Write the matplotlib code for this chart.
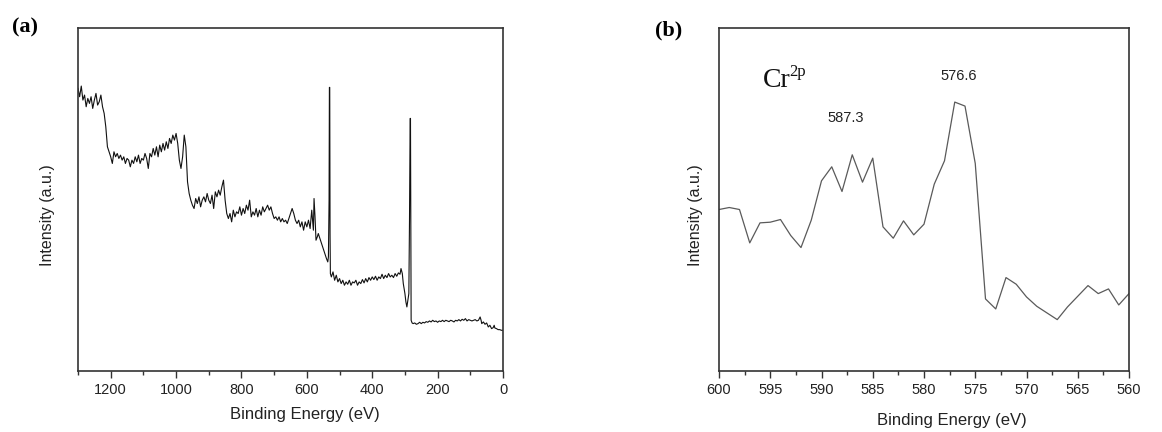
import matplotlib
matplotlib.use("Agg")
import matplotlib.pyplot as plt
from matplotlib.ticker import MultipleLocator

# ---- Panel (a): XPS survey ----
survey_energy = [1300, 1295, 1290, 1285, 1280, 1275, 1270, 1265, 1260, 1255, 1250, 1245, 1240, 1235, 1230,
                 1225, 1220, 1215, 1210, 1205, 1200, 1195, 1190, 1185, 1180, 1175, 1170, 1165, 1160, 1155,
                 1150, 1145, 1140, 1135, 1130, 1125, 1120, 1115, 1110, 1105, 1100, 1095, 1090, 1085, 1080,
                 1075, 1070, 1065, 1060, 1055, 1050, 1045, 1040, 1035, 1030, 1025, 1020, 1015, 1010, 1005,
                 1000, 995, 990, 985, 980, 975, 970, 965, 960, 955, 950, 945, 940, 935, 930,
                 925, 920, 915, 910, 905, 900, 895, 890, 885, 880, 875, 870, 865, 860, 855,
                 850, 845, 840, 835, 830, 825, 820, 815, 810, 805, 800, 795, 790, 785, 780,
                 775, 770, 765, 760, 755, 750, 745, 740, 735, 730, 725, 720, 715, 710, 705,
                 700, 695, 690, 685, 680, 675, 670, 665, 660, 655, 650, 645, 640, 635, 630,
                 625, 620, 615, 610, 605, 600, 595, 590, 585, 580, 578, 575, 572, 568, 565,
                 560, 555, 550, 545, 540, 536, 534, 532, 531, 530, 529, 528, 525, 520, 515,
                 510, 505, 500, 495, 490, 485, 480, 475, 470, 465, 460, 455, 450, 445, 440,
                 435, 430, 425, 420, 415, 410, 405, 400, 395, 390, 385, 380, 375, 370, 365,
                 360, 355, 350, 345, 340, 335, 330, 325, 320, 315, 312, 308, 305, 300, 297,
                 294, 291, 288, 286, 284, 283, 282, 281, 278, 275, 270, 265, 260, 255, 250,
                 245, 240, 235, 230, 225, 220, 215, 210, 205, 200, 195, 190, 185, 180, 175,
                 170, 165, 160, 155, 150, 145, 140, 135, 130, 125, 120, 115, 110, 105, 100,
                 95, 90, 85, 80, 75, 70, 67, 65, 60, 55, 50, 45, 40, 35, 30,
                 27, 25, 20, 15, 10, 5, 0]
survey_intensity = [847, 822, 854, 812, 827, 792, 817, 802, 822, 787, 812, 832, 797, 807, 827,
                    792, 772, 732, 672, 657, 642, 622, 657, 642, 652, 637, 647, 632, 642, 622,
                    637, 632, 612, 632, 622, 642, 627, 647, 622, 637, 632, 652, 637, 607, 652,
                    642, 667, 647, 672, 642, 677, 657, 682, 662, 687, 667, 697, 682, 707, 692,
                    712, 682, 632, 607, 642, 707, 672, 567, 532, 512, 497, 487, 517, 502, 522,
                    492, 512, 522, 507, 532, 512, 502, 527, 487, 537, 522, 542, 527, 552, 572,
                    512, 472, 457, 472, 447, 482, 462, 477, 472, 492, 467, 487, 472, 497, 482,
                    512, 462, 477, 467, 487, 462, 482, 467, 492, 477, 487, 497, 482, 492, 472,
                    457, 462, 452, 462, 447, 457, 447, 452, 442, 457, 472, 487, 472, 452, 442,
                    452, 432, 447, 422, 447, 432, 452, 427, 482, 422, 517, 462, 392, 402, 412,
                    397, 382, 367, 352, 337, 327, 342, 512, 850, 850, 412, 292, 282, 297, 272,
                    287, 267, 277, 262, 272, 257, 267, 260, 272, 257, 267, 264, 272, 257, 267,
                    262, 274, 264, 277, 267, 280, 272, 282, 274, 284, 272, 282, 277, 290, 277,
                    287, 280, 292, 282, 287, 280, 292, 284, 294, 290, 307, 292, 262, 232, 207,
                    192, 212, 232, 452, 757, 757, 432, 152, 144, 142, 144, 140, 142, 146, 142,
                    146, 144, 148, 146, 150, 147, 152, 148, 150, 146, 150, 148, 152, 148, 152,
                    150, 148, 152, 150, 147, 152, 150, 154, 150, 155, 152, 157, 150, 154, 152,
                    150, 152, 154, 150, 152, 162, 152, 142, 147, 140, 144, 132, 137, 127, 130,
                    137, 129, 127, 124, 124, 122, 122]

# ---- Panel (b): Cr 2p ----
cr_energy = [600, 599, 598, 597, 596, 595, 594, 593, 592, 591, 590, 589, 588, 587, 586, 585, 584, 583,
             582, 581, 580, 579, 578, 577, 576, 575, 574, 573, 572, 571, 570, 569, 568, 567, 566, 565,
             564, 563, 562, 561, 560]
cr_intensity = [484, 490, 484, 384, 444, 446, 454, 406, 370, 452, 570, 612, 538, 648, 566, 638, 432, 398,
                450, 408, 440, 560, 630, 806, 794, 622, 216, 186, 280, 260, 222, 194, 174, 154, 192, 224,
                256, 232, 246, 198, 232]

peak_labels = ["587.3", "576.6"]
peak_label_x = [587.6, 576.6]
peak_label_y = [757, 884]

sans = ["Liberation Sans", "DejaVu Sans"]
serif = ["Liberation Serif", "DejaVu Serif"]
plt.rcParams['font.family'] = sans

fig = plt.figure(figsize=(11.62, 4.32), dpi=100)
ax1 = fig.add_axes([78/1162, 1-371/432, 425/1162, 343/432])
ax2 = fig.add_axes([719/1162, 1-371/432, 410/1162, 343/432])

ax1.plot(survey_energy, survey_intensity, color='#111111', lw=0.8)
ax2.plot(cr_energy, cr_intensity, color='#5a5a5a', lw=0.9)

ax1.set_xlim(1300, 0)
ax2.set_xlim(600, 560)
for ax in (ax1, ax2):
    ax.set_ylim(0, 1028)
    ax.set_yticks([])
    for s in ax.spines.values():
        s.set_color('#333333')
        s.set_linewidth(1.2)
    ax.tick_params(axis='x', which='major', direction='out', length=5, width=1.0,
                   color='#333333', labelsize=10.5, labelcolor='#222222', pad=4)
    ax.tick_params(axis='x', which='minor', direction='out', length=3, width=1.0, color='#333333')
    ax.set_ylabel("Intensity (a.u.)", fontsize=11.5, color='#222222')
    ax.set_xlabel("Binding Energy (eV)", fontsize=12, color='#222222')

ax1.xaxis.set_major_locator(MultipleLocator(200))
ax1.xaxis.set_minor_locator(MultipleLocator(100))
ax2.xaxis.set_major_locator(MultipleLocator(5))
ax2.xaxis.set_minor_locator(MultipleLocator(2.5))

ax1.yaxis.set_label_coords(-0.054, 0.455)
ax2.yaxis.set_label_coords(-0.039, 0.455)
ax1.xaxis.set_label_coords(0.534, -0.105)
ax2.xaxis.set_label_coords(0.568, -0.122)

for lab, x, y in zip(peak_labels, peak_label_x, peak_label_y):
    ax2.text(x, y, lab, ha='center', va='center', fontsize=10.5, color='#222222')

ax2.text(595.7, 850, "Cr", ha='left', va='baseline', fontsize=20, family=serif, color='#111111')
ax2.text(593.1, 884, "2p", ha='left', va='baseline', fontsize=12, family=serif, color='#111111')

fig.text(12/1162, 1-27/432, "(a)", ha='left', va='center', fontsize=16, weight='bold', family=serif)
fig.text(655/1162, 1-30/432, "(b)", ha='left', va='center', fontsize=16, weight='bold', family=serif)

fig.savefig("out.png", dpi=100)
